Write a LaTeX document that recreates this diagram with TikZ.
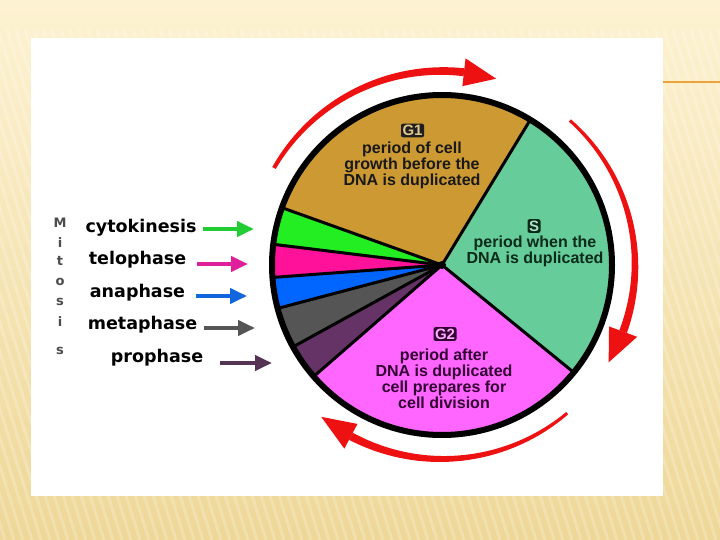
\documentclass[tikz,border=0pt]{standalone}
\usepackage{fontspec}
\setmainfont{Liberation Sans}
\newfontfamily\djv{DejaVu Sans}
\usetikzlibrary{arrows.meta}
\definecolor{bgtop}{HTML}{FDF2D2}
\definecolor{bgbot}{HTML}{EED797}
\definecolor{rule}{HTML}{E8A33A}
\definecolor{gone}{HTML}{CC9933}
\definecolor{sph}{HTML}{66CC99}
\definecolor{gtwo}{HTML}{FF66FF}
\definecolor{cyto}{HTML}{22EE22}
\definecolor{telo}{HTML}{FF1199}
\definecolor{ana}{HTML}{0066FF}
\definecolor{meta}{HTML}{555555}
\definecolor{pro}{HTML}{663366}
\definecolor{arrred}{HTML}{EE1111}
\definecolor{acyto}{HTML}{22CC33}
\definecolor{atelo}{HTML}{E0209A}
\definecolor{aana}{HTML}{1166DD}
\definecolor{ameta}{HTML}{555555}
\definecolor{apro}{HTML}{553355}
\definecolor{stext}{HTML}{0A2A1A}
\definecolor{gtext}{HTML}{330033}
\tikzset{
  phaselab/.style={font=\djv\bfseries\fontsize{17.5}{19}\selectfont, inner sep=0pt},
  phasearrow/.style={line width=4pt, -{Triangle[length=17pt,width=15pt]}},
  mitletter/.style={font=\djv\bfseries\fontsize{13}{13}\selectfont, text=black!70, inner sep=0pt},
  pietext/.style={font=\bfseries\fontsize{16}{14.8}\selectfont, align=center, inner sep=0pt},
  tagbox/.style={font=\bfseries\fontsize{15}{15}\selectfont, rounded corners=2pt, inner sep=1.5pt},
}
% tapered cycle arrow: #1 tail angle, #2 head-base angle, #3 tip angle, #4 radius, #5 tail width, #6 shaft width at head, #7 half head width
\newcommand\cyclearrow[7]{%
  \fill[arrred] plot[domain=#1:#2, samples=50] (\x:{#4+(#5+(#6-#5)*(\x-#1)/(#2-#1))/2})
     -- plot[domain=#2:#1, samples=50] (\x:{#4-(#5+(#6-#5)*(\x-#1)/(#2-#1))/2}) -- cycle;
  \fill[arrred] (#2:#4+#7) -- (#3:#4) -- (#2:#4-#7) -- cycle;}
\begin{document}
\begin{tikzpicture}[x=1pt,y=-1pt]
\useasboundingbox (0,0) rectangle (720,540);
% slide background
\fill[top color=bgtop, bottom color=bgbot] (0,0) rectangle (720,540);
\begin{scope}
\clip (0,30) rectangle (720,540);
\foreach \i in {-200,-191,...,720}
  \draw[white, opacity=0.22, line width=3pt] (\i,30) -- (\i+160,540);
\end{scope}
\draw[rule, line width=2.5pt] (663,82) -- (720,82);
\fill[white] (31,38) rectangle (663,496);

% pie
\begin{scope}[shift={(442,265)}, y=1pt]
\def\R{170}
\foreach \a/\b/\c in {-39.2/58.7/sph, 58.7/160.3/gone, 160.3/173/cyto, 173/184.2/telo, 184.2/194.8/ana, 194.8/208.8/meta, 208.8/221/pro, 221/320.8/gtwo}
  \fill[\c] (0,0) -- (\a:\R) arc[start angle=\a, end angle=\b, radius=\R] -- cycle;
\foreach \a in {-39.2, 58.7, 160.3, 173, 184.2, 194.8, 208.8, 221}
  \draw[line width=3pt] (0,0) -- (\a:\R);
\fill (0,0) circle[radius=4];
\draw[line width=6pt] (0,0) circle[radius=\R];
% cycle arrows
\cyclearrow{150}{83.5}{73.8}{194}{4}{8}{14}
\cyclearrow{48.5}{-20.2}{-30.3}{193}{3}{8}{15}
\cyclearrow{-49.8}{-118}{-128.5}{194}{3}{8}{14}
\end{scope}

% pie labels
\node[tagbox, fill=black!88, text=gone!55!white] (g1tag) at (412.5,130.5) {G1};
\node[pietext, text=black!90] (g1txt) at (412,165) {period of cell\\growth before the\\DNA is duplicated};
\node[tagbox, fill=stext, text=sph!55!white] (stag) at (534,226) {S};
\node[pietext, text=stext] (stxt) at (535,251) {period when the\\DNA is duplicated};
\node[tagbox, fill=gtext, text=gtwo!55!white] (g2tag) at (445,334) {G2};
\node[pietext, text=gtext] (g2txt) at (444,379) {period after\\DNA is duplicated\\cell prepares for\\cell division};

% Mitosis letters
\node[mitletter] (mitM) at (60,223) {M};
\node[mitletter] (miti) at (60,243) {i};
\node[mitletter] (mitt) at (60,261) {t};
\node[mitletter] (mito) at (60,282) {o};
\node[mitletter] (mits) at (60,302) {s};
\node[mitletter] (mitii) at (60,322) {i};
\node[mitletter] (mitss) at (60,351) {s};

% phase labels
\node[phaselab] (lcyto) at (141,228) {cytokinesis};
\node[phaselab] (ltelo) at (137.5,260) {telophase};
\node[phaselab] (lana) at (137.5,293) {anaphase};
\node[phaselab] (lmeta) at (142.5,325) {metaphase};
\node[phaselab] (lpro) at (157,358) {prophase};

% phase arrows
\coordinate (cytoA) at (203,229); \coordinate (cytoB) at (254,229);
\coordinate (teloA) at (197,264); \coordinate (teloB) at (248,264);
\coordinate (anaA) at (196,296);  \coordinate (anaB) at (247,296);
\coordinate (metaA) at (204,328); \coordinate (metaB) at (255,328);
\coordinate (proA) at (220,363);  \coordinate (proB) at (272,363);
\draw[phasearrow, acyto] (cytoA) -- (cytoB);
\draw[phasearrow, atelo] (teloA) -- (teloB);
\draw[phasearrow, aana] (anaA) -- (anaB);
\draw[phasearrow, ameta] (metaA) -- (metaB);
\draw[phasearrow, apro] (proA) -- (proB);
\end{tikzpicture}
\end{document}
